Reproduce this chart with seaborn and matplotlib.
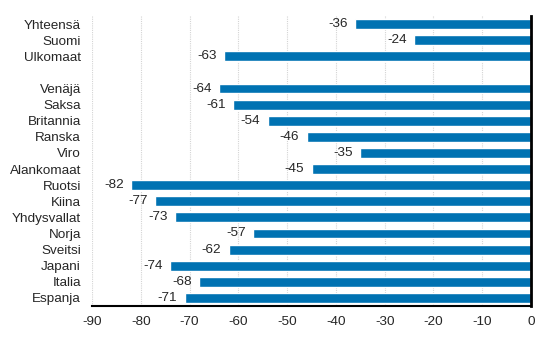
import matplotlib
matplotlib.use("Agg")
import matplotlib.pyplot as plt
import seaborn as sns
import pandas as pd
import numpy as np

categories = ["Yhteensä", "Suomi", "Ulkomaat", " ", "Venäjä", "Saksa", "Britannia",
              "Ranska", "Viro", "Alankomaat", "Ruotsi", "Kiina", "Yhdysvallat",
              "Norja", "Sveitsi", "Japani", "Italia", "Espanja"]
values = [-36, -24, -63, np.nan, -64, -61, -54, -46, -35, -45, -82, -77, -73,
          -57, -62, -74, -68, -71]
xticks = [-90, -80, -70, -60, -50, -40, -30, -20, -10, 0]

sns.set_style("white")
plt.rcParams['font.family'] = ['Liberation Sans', 'DejaVu Sans']
FS = 9.7

df = pd.DataFrame({"cat": categories, "val": values})

fig = plt.figure(figsize=(5.53, 3.40), dpi=100)
ax = fig.add_axes([92/553, 1-306/340, (531-92)/553, 290/340])

sns.barplot(data=df, y="cat", x="val", order=categories, color="#0072B2",
            saturation=1, width=0.62, ax=ax, orient="h")

ax.set_xlim(-90, 0)
ax.set_ylim(len(categories)-0.5, -0.5)
ax.set_xticks(xticks)
ax.set_xticklabels([str(t) for t in xticks], fontsize=FS)
ax.tick_params(axis="y", length=0, labelsize=FS, pad=8)
ax.tick_params(axis="x", length=4, width=1, color="black", direction="out", pad=3)
ax.set_xlabel("")
ax.set_ylabel("")

ax.grid(axis="x", color="#d4d4d4", linestyle=(0, (1, 1)), linewidth=0.8)
ax.set_axisbelow(True)
for s in ["top", "left"]:
    ax.spines[s].set_visible(False)
ax.spines["bottom"].set_color("black")
ax.spines["bottom"].set_linewidth(1.5)
ax.spines["right"].set_color("black")
ax.spines["right"].set_linewidth(2)

for i, v in enumerate(values):
    if np.isnan(v):
        continue
    ax.text(v - 1.5, i, f"{int(v)}", ha="right", va="center", fontsize=FS)

fig.savefig("out.png", dpi=100)
